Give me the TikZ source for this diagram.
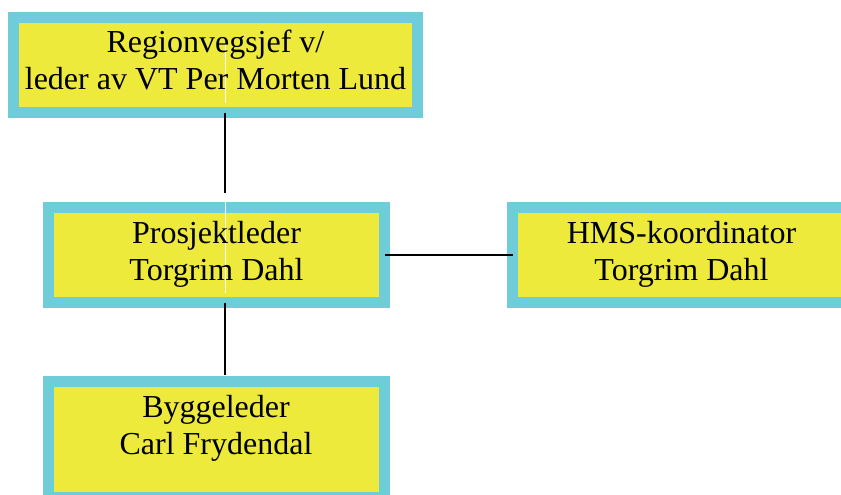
\documentclass[tikz,border=0pt]{standalone}
\usepackage{fontspec}
\setmainfont{Liberation Serif}
\definecolor{boxcyan}{HTML}{6FCCD9}
\definecolor{boxyellow}{HTML}{EDEA3B}
\begin{document}
\begin{tikzpicture}[x=1pt,y=-1pt,
  orgbox/.style={draw=boxcyan,fill=boxyellow,line width=11pt,rectangle,inner sep=0pt,outer sep=0pt,minimum width=336.5pt,minimum height=95pt},
  orgtext/.style={inner sep=0pt,font=\fontsize{32}{37}\selectfont},
  conn/.style={draw=black,line width=1.8pt},
  artifact/.style={draw=white,line width=1pt}]
\useasboundingbox (0,0) rectangle (841,495);
\clip (0,0) rectangle (841,495);
\node[orgbox,minimum width=404pt] (b1) at (215.5,65) {};
\node[orgbox] (b2) at (216.25,255) {};
\node[orgbox] (b3) at (680.75,255) {};
\node[orgbox,minimum height=116pt] (b4) at (216.25,439.5) {};
\coordinate (w1a) at (225,43);
\coordinate (w1b) at (225,103);
\coordinate (w2a) at (225,202);
\coordinate (w2b) at (225,293);
\draw[artifact] (w1a) -- (w1b);
\draw[artifact] (w2a) -- (w2b);
\node[orgtext] (t1) at (215.5,63.5) {\begin{tabular}{@{}c@{}}Regionvegsjef v/\\leder av VT Per Morten Lund\end{tabular}};
\node[orgtext] (t2) at (216.5,254.3) {\begin{tabular}{@{}c@{}}Prosjektleder\\Torgrim Dahl\end{tabular}};
\node[orgtext] (t3) at (681.5,254.3) {\begin{tabular}{@{}c@{}}HMS-koordinator\\Torgrim Dahl\end{tabular}};
\node[orgtext] (t4) at (216,428.6) {\begin{tabular}{@{}c@{}}Byggeleder\\Carl Frydendal\end{tabular}};
\coordinate (x1) at (225,0);
\draw[conn,shorten >=14.5pt] (b1.south -| x1) -- (b2.north -| x1);
\draw[conn,shorten >=6.5pt] (b2.south -| x1) -- (b4.north -| x1);
\draw[conn] (b2.east) -- (b3.west);
\end{tikzpicture}
\end{document}
